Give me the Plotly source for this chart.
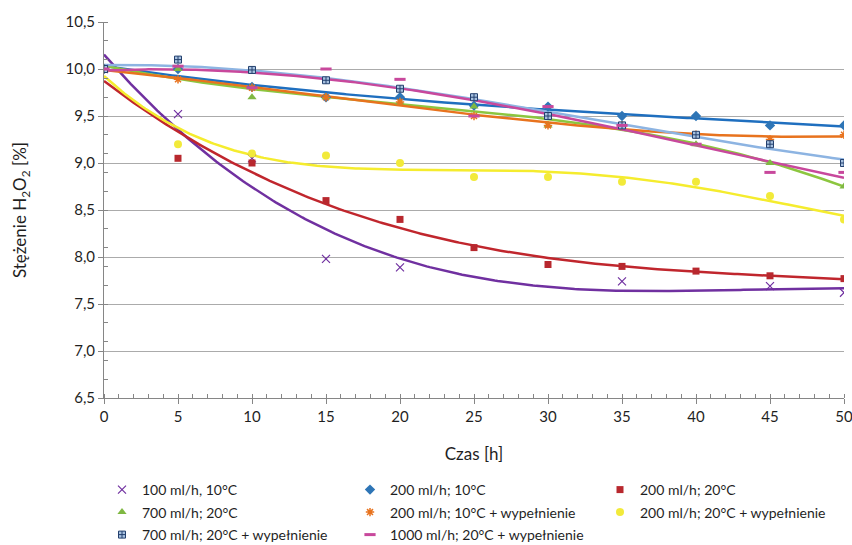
import numpy as np
import plotly.graph_objects as go

# Sampling times [h]
czas = [0, 5, 10, 15, 20, 25, 30, 35, 40, 45, 50]

# H2O2 concentration [%] for each run (None = no reading)
s_100_10 = [10.0, 9.52, 9.05, 7.98, 7.89, None, None, 7.74, None, 7.69, 7.62]
s_200_10 = [10.0, 10.0, 9.81, 9.70, 9.70, 9.61, 9.60, 9.50, 9.50, 9.40, 9.40]
s_200_20 = [10.0, 9.05, 9.00, 8.60, 8.40, 8.10, 7.92, 7.90, 7.85, 7.80, 7.77]
s_700_20 = [10.0, 10.0, 9.70, 9.70, 9.64, 9.60, 9.40, 9.40, 9.20, 9.00, 8.75]
s_200_10_w = [10.0, 9.89, 9.80, 9.70, 9.65, 9.50, 9.40, 9.40, 9.30, 9.25, 9.30]
s_200_20_w = [10.0, 9.20, 9.10, 9.08, 9.00, 8.85, 8.85, 8.80, 8.80, 8.65, 8.40]
s_700_20_w = [10.0, 10.10, 9.99, 9.88, 9.79, 9.70, 9.50, 9.40, 9.30, 9.20, 9.00]
s_1000_20_w = [10.0, 10.03, 9.80, 10.0, 9.89, 9.50, 9.60, 9.40, 9.20, 8.90, 8.90]

names = [
    "100 ml/h, 10°C",
    "200 ml/h; 10°C",
    "200 ml/h; 20°C",
    "700 ml/h; 20°C",
    "200 ml/h; 10°C + wypełnienie",
    "200 ml/h; 20°C + wypełnienie",
    "700 ml/h; 20°C + wypełnienie",
    "1000 ml/h; 20°C + wypełnienie",
]
series = [s_100_10, s_200_10, s_200_20, s_700_20,
          s_200_10_w, s_200_20_w, s_700_20_w, s_1000_20_w]

# polynomial trendline order per run
orders = [3, 3, 3, 3, 3, 4, 3, 3]

styles = [
    dict(line="#7030A0", marker=dict(symbol="x-thin", size=8, color="#7030A0",
                                     line=dict(color="#7030A0", width=1.2))),
    dict(line="#1F6FBF", marker=dict(symbol="diamond", size=8, color="#2E75B6",
                                     line=dict(width=0))),
    dict(line="#C0262D", marker=dict(symbol="square", size=7, color="#B8282E",
                                     line=dict(width=0))),
    dict(line="#8CC63F", marker=dict(symbol="triangle-up", size=8, color="#7FB842",
                                     line=dict(width=0))),
    dict(line="#E8731E", marker=dict(symbol="asterisk-open", size=7, color="#E8731E",
                                     line=dict(color="#E8731E", width=1.5))),
    dict(line="#F5EC2E", marker=dict(symbol="circle", size=8, color="#F2EA3A",
                                     line=dict(width=0))),
    dict(line="#8DB4E2", marker=dict(symbol="square-cross", size=7, color="#A7C1E0",
                                     line=dict(color="#24406E", width=1))),
    dict(line="#C8489C", marker=dict(symbol="line-ew", size=8, color="#C8489C",
                                     line=dict(color="#C8489C", width=3))),
]

fig = go.Figure()

t_fine = np.linspace(0, 50, 251)
for vals, order, st in zip(series, orders, styles):
    x = np.array([t for t, v in zip(czas, vals) if v is not None], dtype=float)
    y = np.array([v for v in vals if v is not None], dtype=float)
    coef = np.polyfit(x, y, order)
    fig.add_trace(go.Scatter(x=t_fine, y=np.polyval(coef, t_fine), mode="lines",
                             line=dict(color=st["line"], width=2.5),
                             showlegend=False, hoverinfo="skip"))

# legend grid: three columns, three rows below the plot (pixel positions)
col_x = [102, 350, 600]
row_y = [490, 512.5, 535]
legend_layout = {}
for i, (vals, name, st) in enumerate(zip(series, names, styles)):
    key = "legend" if i == 0 else f"legend{i + 1}"
    fig.add_trace(go.Scatter(x=czas, y=vals, mode="markers", name=name,
                             marker=st["marker"], legend=key))
    legend_layout[key] = dict(
        orientation="h", xref="container", yref="container",
        x=col_x[i % 3] / 852, xanchor="left",
        y=1 - row_y[i // 3] / 545, yanchor="middle",
        font=dict(size=14), itemwidth=30, bgcolor="rgba(0,0,0,0)",
    )

font = "Lato, 'Open Sans', sans-serif"
fig.update_layout(
    width=852, height=545,
    margin=dict(l=104, r=8, t=22, b=147, autoexpand=False),
    paper_bgcolor="white", plot_bgcolor="white",
    separators=", ",
    font=dict(family=font, size=14, color="#1F1F1F"),
    **legend_layout,
    xaxis=dict(range=[0, 50], tickmode="linear", tick0=0, dtick=5,
               showgrid=False, zeroline=False,
               showline=True, linecolor="#868686", linewidth=1,
               ticks="outside", ticklen=5, tickcolor="#868686",
               minor=dict(ticks="inside", dtick=1, ticklen=4, tickcolor="#868686"),
               tickfont=dict(size=15), ticklabeloverflow="allow",
               title=dict(text="Czas [h]", font=dict(size=17), standoff=24)),
    yaxis=dict(range=[6.5, 10.5], tickmode="linear", tick0=6.5, dtick=0.5,
               tickformat=".1f",
               showgrid=True, gridcolor="#ABABAB", gridwidth=1.3, zeroline=False,
               showline=True, linecolor="#868686", linewidth=1,
               ticks="outside", ticklen=5, tickcolor="#868686",
               minor=dict(ticks="inside", tick0=6.5, dtick=0.2, ticklen=4,
                          tickcolor="#868686"),
               tickfont=dict(size=15),
               title=dict(text="Stężenie H<sub>2</sub>O<sub>2</sub> [%]",
                          font=dict(size=17), standoff=34)),
)

fig.write_html("out.html")
